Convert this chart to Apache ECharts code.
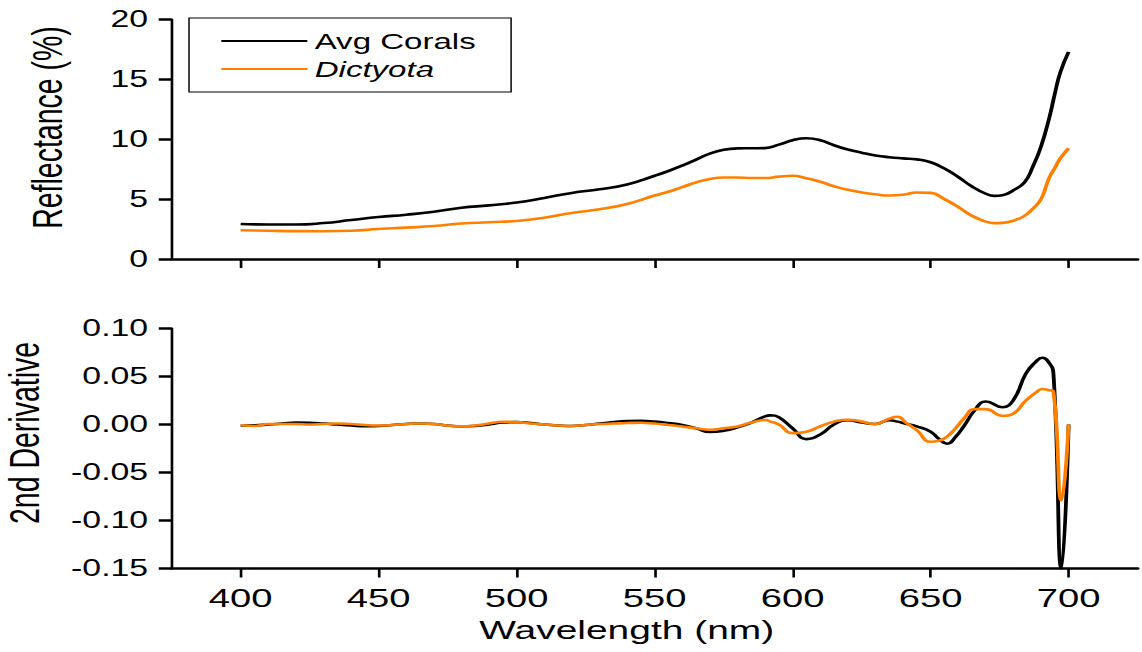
<!DOCTYPE html>
<html>
<head>
<meta charset="utf-8">
<title>Reflectance spectra</title>
<script src="https://cdn.jsdelivr.net/npm/echarts@6/dist/echarts.min.js"></script>
<style>
  html, body { margin: 0; padding: 0; background: #fff; overflow: hidden; }
  /* the original figure is stretched horizontally, so the chart is drawn narrow and scaled */
  #chart { width: 777px; height: 652px; transform: scaleX(1.4698); transform-origin: 0 0; }
</style>
</head>
<body>
<div id="chart"></div>
<script>
// top panel: reflectance (%)
const wavelengthTop = [400, 410, 420, 430, 440, 450, 460, 470, 480, 490, 500, 510, 520, 530, 540, 550, 555, 560, 565, 570,
  575, 580, 585, 590, 595, 600, 605, 610, 615, 620, 625, 630, 635, 640, 645, 650, 655, 660, 665, 670,
  673, 676, 680, 684, 687, 690, 693, 695, 697, 700];
const coralsReflectance = [2.92, 2.88, 2.88, 3.0, 3.25, 3.5, 3.7, 3.95, 4.28, 4.48, 4.72, 5.1, 5.52, 5.82, 6.22, 6.95, 7.35, 7.8, 8.3, 8.8,
  9.12, 9.24, 9.25, 9.26, 9.55, 9.92, 10.08, 9.92, 9.5, 9.15, 8.88, 8.65, 8.5, 8.4, 8.32, 8.08, 7.55, 6.85, 6.05, 5.45,
  5.27, 5.32, 5.75, 6.4, 7.7, 9.4, 11.8, 13.8, 15.6, 17.3];
const dictyotaReflectance = [2.4, 2.36, 2.33, 2.32, 2.36, 2.5, 2.62, 2.75, 2.96, 3.07, 3.18, 3.45, 3.85, 4.15, 4.6, 5.3, 5.62, 6.0, 6.4, 6.68,
  6.8, 6.8, 6.76, 6.76, 6.88, 6.95, 6.75, 6.45, 6.08, 5.78, 5.56, 5.4, 5.3, 5.36, 5.55, 5.52, 5.0, 4.35, 3.6, 3.12,
  3.0, 3.02, 3.2, 3.6, 4.2, 5.0, 6.8, 7.6, 8.4, 9.25];

// bottom panel: 2nd derivative
const wavelengthDeriv = [400, 405, 410, 415, 420, 425, 430, 435, 440, 445, 450, 455, 460, 465, 470, 475, 480, 485, 490, 495,
  500, 505, 510, 515, 520, 525, 530, 535, 540, 545, 550, 555, 560, 565, 570, 575, 580, 585, 590, 592,
  595, 600, 605, 610, 615, 620, 625, 630, 635, 638, 641, 645, 650, 653, 656, 659, 662, 666, 670, 676,
  680, 684.5, 688, 690.5, 692.5, 694.5, 697.4, 700];
const coralsDeriv = [-0.001, -0.0008, 0.0, 0.001, 0.002, 0.0018, 0.001, 0.0, -0.001, -0.0018, -0.0015, -0.0005, 0.0005, 0.001, 0.0005, -0.001, -0.002, -0.0015, 0.0, 0.002,
  0.0025, 0.0015, 0.0, -0.001, -0.0015, -0.0005, 0.001, 0.0025, 0.0035, 0.0038, 0.003, 0.0015, -0.0005, -0.004, -0.0078, -0.0065, -0.003, 0.002, 0.0085, 0.0095,
  0.0075, -0.004, -0.0152, -0.0105, 0.0, 0.0045, 0.002, 0.0005, 0.0045, 0.003, 0.0008, -0.002, -0.0075, -0.015, -0.02, -0.013, -0.002, 0.015, 0.024, 0.018,
  0.0255, 0.053, 0.065, 0.0696, 0.066, 0.053, -0.15, 0.0];
const dictyotaDeriv = [-0.0005, -0.0015, 0.0005, 0.0005, 0.0005, 0.0, 0.0005, 0.001, 0.0005, -0.0005, -0.001, -0.0005, 0.0005, 0.001, 0.0005, -0.001, -0.002, -0.001, 0.001, 0.0028,
  0.0025, 0.001, 0.0, -0.001, -0.0015, -0.0005, 0.0005, 0.001, 0.0015, 0.0018, 0.001, -0.0005, -0.002, -0.004, -0.0054, -0.004, -0.002, 0.002, 0.0047, 0.003,
  0.0, -0.009, -0.0075, -0.002, 0.003, 0.005, 0.003, 0.0005, 0.006, 0.008, 0.002, -0.006, -0.018, -0.017, -0.0125, -0.004, 0.006, 0.016, 0.016, 0.009,
  0.0115, 0.025, 0.033, 0.037, 0.036, 0.034, -0.079, 0.0];

const xTicks = [400, 450, 500, 550, 600, 650, 700];
const reflTicks = [0, 5, 10, 15, 20];
const derivTicks = [-0.15, -0.1, -0.05, 0, 0.05, 0.1];

const FONT = 'Liberation Sans, Arial, sans-serif';
const ORANGE = '#ff8000';

function pairs(xs, ys) {
  return xs.map((x, i) => [x, ys[i]]);
}

function xAxisFor(gridIndex, withLabels) {
  return {
    type: 'value',
    gridIndex: gridIndex,
    min: 375,
    max: 725,
    axisLine: { onZero: false, lineStyle: { color: '#000', width: 2.5 } },
    axisTick: { customValues: xTicks, length: 9, lineStyle: { color: '#000', width: 1.8 } },
    axisLabel: withLabels
      ? { customValues: xTicks, fontSize: 26, color: '#000', fontFamily: FONT, margin: 16 }
      : { show: false },
    splitLine: { show: false }
  };
}

function yAxisFor(gridIndex, ticks, min, max, name, gap, shift, fmt) {
  return {
    type: 'value',
    gridIndex: gridIndex,
    min: min,
    max: max,
    name: name,
    nameLocation: 'middle',
    nameGap: gap,
    nameTextStyle: { fontSize: 28.5, color: '#000', fontFamily: FONT, padding: [0, 0, 0, shift] },
    axisLine: { show: true, onZero: false, lineStyle: { color: '#000', width: 1.8 } },
    axisTick: { show: true, customValues: ticks, length: 8.8, lineStyle: { color: '#000', width: 2.5 } },
    axisLabel: { customValues: ticks, fontSize: 23, color: '#000', fontFamily: FONT, margin: 16, formatter: fmt },
    splitLine: { show: false }
  };
}

const lineBase = { type: 'line', symbol: 'none', showSymbol: false, smooth: 0.5, z: 3 };

const xBottom = xAxisFor(1, true);
xBottom.name = 'Wavelength (nm)';
xBottom.nameLocation = 'middle';
xBottom.nameGap = 48;
xBottom.nameTextStyle = { fontSize: 26.5, color: '#000', fontFamily: FONT, padding: [0, 38, 0, 0] };

const option = {
  animation: false,
  backgroundColor: '#fff',
  textStyle: { fontFamily: FONT },
  grid: [
    { left: 116.8, right: 3, top: 19.5, height: 239.5, outerBoundsMode: 'none', containLabel: false },
    { left: 116.8, right: 3, top: 328.5, height: 240, outerBoundsMode: 'none', containLabel: false }
  ],
  legend: {
    orient: 'vertical',
    left: 128.6,
    top: 18,
    padding: [11, 24, 11, 22],
    borderColor: '#000',
    borderWidth: 1,
    icon: 'rect',
    itemWidth: 58.5,
    itemHeight: 2,
    itemGap: 4,
    data: ['Avg Corals', 'Dictyota'],
    formatter: (name) => name === 'Dictyota' ? '{it|Dictyota}' : name,
    textStyle: {
      fontSize: 22.5,
      lineHeight: 24,
      color: '#000',
      fontFamily: FONT,
      rich: { it: { fontStyle: 'italic', fontSize: 22.5, lineHeight: 24, color: '#000', fontFamily: FONT } }
    }
  },
  xAxis: [xAxisFor(0, false), xBottom],
  yAxis: [
    yAxisFor(0, reflTicks, 0, 20, 'Reflectance (%)', 70, 23.5, (v) => String(v)),
    yAxisFor(1, derivTicks, -0.15, 0.1, '2nd Derivative', 85.5, 31,
      (v) => Math.abs(v) < 1e-9 ? '0.00' : v.toFixed(2))
  ],
  series: [
    Object.assign({}, lineBase, {
      name: 'Avg Corals', xAxisIndex: 0, yAxisIndex: 0,
      data: pairs(wavelengthTop, coralsReflectance),
      lineStyle: { color: '#000', width: 2.6 }, itemStyle: { color: '#000' }
    }),
    Object.assign({}, lineBase, {
      name: 'Dictyota', xAxisIndex: 0, yAxisIndex: 0,
      data: pairs(wavelengthTop, dictyotaReflectance),
      lineStyle: { color: ORANGE, width: 2.6 }, itemStyle: { color: ORANGE }
    }),
    Object.assign({}, lineBase, {
      name: 'Avg Corals', xAxisIndex: 1, yAxisIndex: 1,
      data: pairs(wavelengthDeriv, coralsDeriv),
      lineStyle: { color: '#000', width: 2.6 }, itemStyle: { color: '#000' }
    }),
    Object.assign({}, lineBase, {
      name: 'Dictyota', xAxisIndex: 1, yAxisIndex: 1,
      data: pairs(wavelengthDeriv, dictyotaDeriv),
      lineStyle: { color: ORANGE, width: 2.6 }, itemStyle: { color: ORANGE }
    })
  ]
};

const myChart = echarts.init(document.getElementById('chart'), null, { renderer: 'svg', width: 777, height: 652 });
myChart.setOption(option);
</script>
</body>
</html>
